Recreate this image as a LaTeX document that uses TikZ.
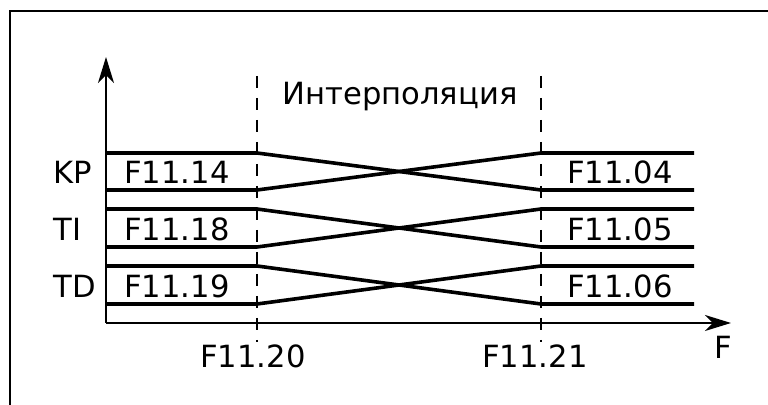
\documentclass[tikz,border=0pt]{standalone}
\usepackage{fontspec}
\setmainfont{DejaVu Sans}
\usetikzlibrary{arrows.meta}

\begin{document}
\begin{tikzpicture}[x=0.5pt,y=-0.5pt,
    band/.style={line width=1.8pt},
    axis/.style={line width=1pt,-{Stealth[length=13pt,width=8pt,inset=4pt]}},
    guide/.style={line width=0.85pt,dash pattern=on 6pt off 5pt},
    lbl/.style={font=\fontsize{15.3}{18}\selectfont,inner sep=0pt}]
    \useasboundingbox (0,0) rectangle (768,405);
    \draw[line width=1pt] (10,412) -- (10,11) -- (772,11);
    % axes
    \coordinate (O) at (106,323);
    \coordinate (ytip) at (106,57);
    \coordinate (xtip) at (731,323);
    \draw[axis] (O) -- (ytip);
    \draw[axis] (O) -- (xtip);
    \node[lbl] (F) at (723,347) {F};
    % interpolation limits
    \coordinate (lo-top) at (257,76);
    \coordinate (lo-bot) at (257,342);
    \coordinate (hi-top) at (541,76);
    \coordinate (hi-bot) at (541,342);
    \draw[guide] (lo-top) -- (lo-bot);
    \draw[guide] (hi-top) -- (hi-bot);
    \node[lbl] (interp) at (400,97) {Интерполяция};
    \node[lbl] (lo) at (253,356) {F11.20};
    \node[lbl] (hi) at (535,356) {F11.21};
    % bands
    \foreach \name/\top/\bot/\lft/\rgt in {KP/153/190/F11.14/F11.04,
        TI/209/247/F11.18/F11.05, TD/266/304/F11.19/F11.06} {
      \coordinate (\name-a) at (106,\top);
      \coordinate (\name-b) at (257,\top);
      \coordinate (\name-c) at (541,\top);
      \coordinate (\name-d) at (694,\top);
      \coordinate (\name-e) at (106,\bot);
      \coordinate (\name-f) at (257,\bot);
      \coordinate (\name-g) at (541,\bot);
      \coordinate (\name-h) at (694,\bot);
      \draw[band] (\name-a) -- (\name-b) -- (\name-g) -- (\name-h);
      \draw[band] (\name-e) -- (\name-f) -- (\name-c) -- (\name-d);
      \node[lbl,anchor=west] (\name) at (53,{(\top+\bot)/2+1}) {\name};
      \node[lbl] (\name-l) at (177,{(\top+\bot)/2+1}) {\lft};
      \node[lbl] (\name-r) at (620,{(\top+\bot)/2+1}) {\rgt};
    }
\end{tikzpicture}
\end{document}
